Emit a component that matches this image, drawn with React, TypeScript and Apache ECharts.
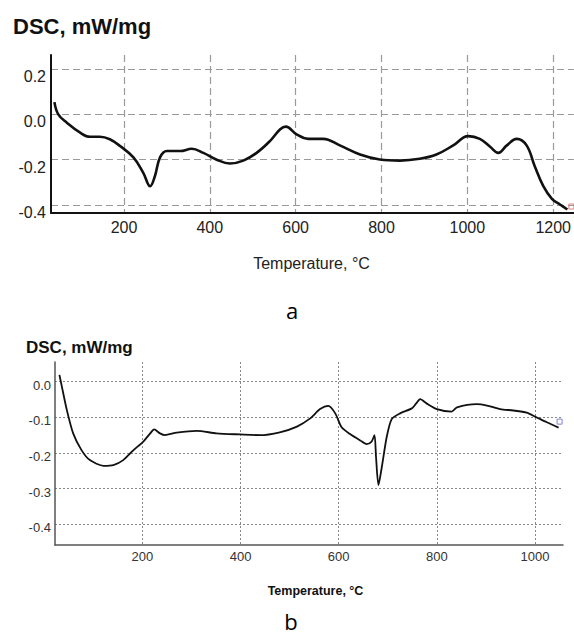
import React, { useEffect, useRef } from "react";
import * as echarts from "echarts";

// Chart a
const tempA = [38, 47, 67, 98, 121, 144, 167, 191, 222, 245, 261, 272, 284, 300, 331, 358, 385, 416, 447, 478, 509, 540, 564, 577, 602, 629, 664, 703, 750, 796, 843, 889, 928, 967, 1002, 1029, 1053, 1072, 1092, 1115, 1138, 1157, 1177, 1197, 1216, 1233];
const dscA = [0.054, 0.0, -0.037, -0.081, -0.099, -0.099, -0.11, -0.14, -0.19, -0.258, -0.317, -0.273, -0.19, -0.162, -0.162, -0.152, -0.17, -0.2, -0.217, -0.204, -0.17, -0.118, -0.066, -0.054, -0.088, -0.108, -0.108, -0.137, -0.177, -0.199, -0.204, -0.196, -0.177, -0.137, -0.096, -0.108, -0.143, -0.17, -0.137, -0.108, -0.137, -0.229, -0.317, -0.373, -0.398, -0.42];
const xTicksA = [200, 400, 600, 800, 1000, 1200];
const yTicksA = [-0.4, -0.2, 0.0, 0.2];

// Chart b
const tempB = [31, 36, 46, 59, 76, 93, 121, 141, 161, 182, 202, 216, 224, 236, 246, 270, 311, 351, 399, 440, 480, 515, 542, 562, 579, 593, 606, 623, 644, 657, 667, 673, 676, 681, 688, 698, 708, 725, 749, 758, 766, 779, 800, 830, 841, 881, 902, 929, 956, 983, 1000, 1024, 1048];
const dscB = [0.019, -0.014, -0.079, -0.145, -0.192, -0.22, -0.236, -0.234, -0.22, -0.192, -0.168, -0.145, -0.134, -0.145, -0.15, -0.143, -0.138, -0.145, -0.148, -0.15, -0.142, -0.126, -0.103, -0.077, -0.068, -0.089, -0.128, -0.147, -0.165, -0.175, -0.168, -0.15, -0.21, -0.29, -0.238, -0.154, -0.105, -0.089, -0.075, -0.061, -0.049, -0.061, -0.077, -0.084, -0.072, -0.063, -0.067, -0.077, -0.081, -0.087, -0.098, -0.114, -0.129];
const xTicksB = [200, 400, 600, 800, 1000];
const yTicksB = [-0.4, -0.3, -0.2, -0.1, 0.0];

const FONT = "'Liberation Sans', Arial, sans-serif";

export default function App() {
  const ref = useRef<HTMLDivElement>(null);
  useEffect(() => {
    if (!ref.current) return;
    const chart = echarts.init(ref.current, null, { renderer: "svg" });
    const dataA = tempA.map((t, i) => [t, dscA[i]]);
    const dataB = tempB.map((t, i) => [t, dscB[i]]);
    const lastA = dataA[dataA.length - 1];
    const lastB = dataB[dataB.length - 1];
    chart.setOption({
      animation: false,
      backgroundColor: "#ffffff",
      grid: [
        { left: 51, top: 55, width: 523, height: 157.7 },
        { left: 55, top: 362, width: 508, height: 183 },
      ],
      xAxis: [
        {
          type: "value", gridIndex: 0, min: 30, max: 1248,
          axisLine: { onZero: false, lineStyle: { color: "#111", width: 2 } },
          axisTick: { show: false, customValues: xTicksA },
          axisLabel: { customValues: xTicksA, fontSize: 16, color: "#222", fontFamily: FONT, margin: 7, formatter: (v: number) => String(v) },
          splitLine: { show: true, lineStyle: { color: "#9a9a9a", type: [7, 4], width: 1.2 } },
        },
        {
          type: "value", gridIndex: 1, min: 22, max: 1057,
          axisLine: { onZero: false, lineStyle: { color: "#555", width: 1.5 } },
          axisTick: { show: false, customValues: xTicksB },
          axisLabel: { customValues: xTicksB, fontSize: 13, color: "#333", fontFamily: FONT, margin: 5, formatter: (v: number) => String(v) },
          splitLine: { show: true, lineStyle: { color: "#888", type: [2, 2], width: 1 } },
        },
      ],
      yAxis: [
        {
          type: "value", gridIndex: 0, min: -0.434, max: 0.262,
          axisLine: { show: true, onZero: false, lineStyle: { color: "#111", width: 2 } },
          axisTick: { show: false, customValues: yTicksA },
          axisLabel: {
            customValues: yTicksA, fontSize: 16, color: "#222", fontFamily: FONT, margin: 5,
            verticalAlign: "top", lineHeight: 15,
            formatter: (v: number) => v.toFixed(1),
          },
          splitLine: { show: true, lineStyle: { color: "#9a9a9a", type: [7, 4], width: 1.2 } },
        },
        {
          type: "value", gridIndex: 1, min: -0.458, max: 0.055,
          axisLine: { show: true, onZero: false, lineStyle: { color: "#555", width: 1.5 } },
          axisTick: { show: false, customValues: yTicksB },
          axisLabel: {
            customValues: yTicksB, fontSize: 13, color: "#333", fontFamily: FONT, margin: 4,
            verticalAlign: "top", lineHeight: 7,
            formatter: (v: number) => v.toFixed(1),
          },
          splitLine: { show: true, lineStyle: { color: "#888", type: [2, 2], width: 1 } },
        },
      ],
      series: [
        {
          type: "line", xAxisIndex: 0, yAxisIndex: 0, data: dataA,
          showSymbol: false, smooth: 0.4,
          lineStyle: { color: "#111", width: 2.6 },
          markPoint: {
            symbol: "rect", symbolSize: 5, symbolOffset: [4, -3],
            itemStyle: { color: "rgba(0,0,0,0)", borderColor: "#e08080", borderWidth: 1 },
            label: { show: false },
            data: [{ coord: lastA }],
          },
        },
        {
          type: "line", xAxisIndex: 1, yAxisIndex: 1, data: dataB,
          showSymbol: false, smooth: 0.25,
          lineStyle: { color: "#111", width: 1.8 },
          markPoint: {
            symbol: "rect", symbolSize: 5, symbolOffset: [1, -6],
            itemStyle: { color: "rgba(0,0,0,0)", borderColor: "#8080e0", borderWidth: 1 },
            label: { show: false },
            data: [{ coord: lastB }],
          },
        },
      ],
      graphic: [
        { type: "text", left: 13, top: 15, style: { text: "DSC, mW/mg", font: `bold 22px ${FONT}`, fill: "#111" } },
        { type: "text", x: 311.5, y: 263.5, style: { text: "Temperature, °C", font: `16px ${FONT}`, fill: "#222", align: "center", verticalAlign: "middle" } },
        { type: "text", x: 292, y: 310, style: { text: "a", font: `22px 'Open Sans', sans-serif`, fill: "#000", align: "center", verticalAlign: "middle" } },
        { type: "text", left: 26, top: 339, style: { text: "DSC, mW/mg", font: `bold 17px ${FONT}`, fill: "#111" } },
        { type: "text", x: 315.5, y: 591, style: { text: "Temperature, °C", font: `bold 12.5px ${FONT}`, fill: "#111", align: "center", verticalAlign: "middle" } },
        { type: "text", x: 291, y: 621, style: { text: "b", font: `22px 'Open Sans', sans-serif`, fill: "#000", align: "center", verticalAlign: "middle" } },
      ],
    });
    return () => chart.dispose();
  }, []);
  return <div ref={ref} style={{ position: "absolute", left: 0, top: 0, width: 574, height: 637 }} />;
}
